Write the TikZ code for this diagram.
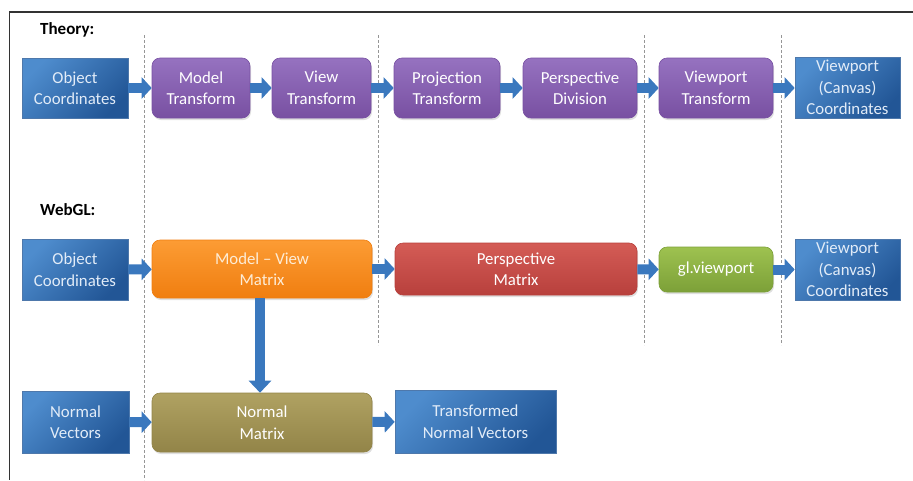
\documentclass[tikz,border=0pt]{standalone}
\usepackage{fontspec}
\setmainfont{Carlito}
\usetikzlibrary{arrows.meta,shadows}
\definecolor{bA}{RGB}{78,140,205}
\definecolor{bB}{RGB}{34,86,150}
\definecolor{pA}{RGB}{150,114,192}
\definecolor{pB}{RGB}{120,80,162}
\definecolor{oA}{RGB}{252,156,52}
\definecolor{oB}{RGB}{240,126,16}
\definecolor{rA}{RGB}{212,92,86}
\definecolor{rB}{RGB}{184,64,60}
\definecolor{gA}{RGB}{158,194,80}
\definecolor{gB}{RGB}{124,160,56}
\definecolor{yA}{RGB}{176,162,98}
\definecolor{yB}{RGB}{146,132,72}
\definecolor{arrC}{RGB}{58,120,190}
\definecolor{txtB}{RGB}{226,236,248}
\definecolor{dashC}{RGB}{150,150,150}
\begin{document}
\begin{tikzpicture}[x=1pt,y=-1pt,
  base/.style={align=center,inner sep=0pt,font=\fontsize{16.8}{21.5}\selectfont},
  bluebox/.style={base,top color=bA,bottom color=bB,shading angle=45,text=txtB,
     draw=bB!80!white,line width=0.6pt},
  rbox/.style={base,rounded corners=8pt,text=white,line width=0.6pt,
     drop shadow={opacity=0.25,shadow xshift=1pt,shadow yshift=-2pt}},
  purplebox/.style={rbox,top color=pA,bottom color=pB,draw=pB},
  orangebox/.style={rbox,top color=oA,bottom color=oB,draw=oB,text={rgb,255:red,253;green,236;blue,214}},
  redbox/.style={rbox,top color=rA,bottom color=rB,draw=rB},
  greenbox/.style={rbox,top color=gA,bottom color=gB,draw=gB},
  olivebox/.style={rbox,top color=yA,bottom color=yB,draw=yB},
  arr/.style={draw=arrC,line width=10pt,-{Triangle[width=21pt,length=10pt]}},
  varr/.style={draw=arrC,line width=10pt,-{Triangle[width=22pt,length=12pt]}},
  sep/.style={draw=dashC,densely dashed,line width=0.6pt},
  lbl/.style={font=\bfseries\fontsize{17}{20}\selectfont,anchor=west,inner sep=0pt}
]
\useasboundingbox (0,0) rectangle (913,480);
% frame
\draw[line width=1.2pt,black!80] (913,12) -- (9.5,12) -- (9.5,480);
% separators
\draw[sep] (144,35) -- (144,480);
\draw[sep] (378,35) -- (378,345);
\draw[sep] (644,35) -- (644,345);
\draw[sep] (781,35) -- (781,345);
% labels
\node[lbl] (theory) at (40,30) {Theory:};
\node[lbl] (webgl) at (40,210) {WebGL:};
% row 1
\node[bluebox,minimum width=106pt,minimum height=60pt] (obj1) at (75,88) {Object\\Coordinates};
\node[purplebox,minimum width=98pt,minimum height=60pt] (model) at (201,88) {Model\\Transform};
\node[purplebox,minimum width=99pt,minimum height=60pt] (view) at (321.5,88) {View\\Transform};
\node[purplebox,minimum width=106pt,minimum height=60pt] (proj) at (447,88) {Projection\\Transform};
\node[purplebox,minimum width=114pt,minimum height=60pt] (pdiv) at (580,88) {Perspective\\Division};
\node[purplebox,minimum width=114pt,minimum height=60pt] (vpt) at (716,88) {Viewport\\Transform};
\node[bluebox,minimum width=105pt,minimum height=61pt] (vpc1) at (847.5,87.5) {Viewport\\(Canvas)\\Coordinates};
\draw[arr] (obj1) -- (model);
\draw[arr] (model) -- (view);
\draw[arr] (view) -- (proj);
\draw[arr] (proj) -- (pdiv);
\draw[arr] (pdiv) -- (vpt);
\draw[arr] (vpt) -- (vpc1.west |- vpt);
% row 2
\node[bluebox,minimum width=106pt,minimum height=61pt] (obj2) at (75,269.5) {Object\\Coordinates};
\node[orangebox,minimum width=220pt,minimum height=58pt] (mv) at (262,269) {Model -- View\\Matrix};
\node[redbox,minimum width=242pt,minimum height=52pt] (pm) at (516,269) {Perspective\\Matrix};
\node[greenbox,minimum width=114pt,minimum height=45pt] (glv) at (716,269.5) {gl.viewport};
\node[bluebox,minimum width=105pt,minimum height=61pt] (vpc2) at (847.5,269.5) {Viewport\\(Canvas)\\Coordinates};
\draw[arr] (obj2) -- (mv);
\draw[arr] (mv) -- (pm);
\draw[arr] (pm) -- (glv);
\draw[arr] (glv) -- (vpc2);
% row 3
\node[bluebox,minimum width=107pt,minimum height=62pt] (nv) at (75.5,422) {Normal\\Vectors};
\node[olivebox,minimum width=220pt,minimum height=59pt] (nm) at (262,422.5) {Normal\\Matrix};
\node[bluebox,minimum width=161pt,minimum height=63pt] (tnv) at (475.5,421.5) {Transformed\\Normal Vectors};
\draw[arr] (nv) -- (nm);
\draw[arr] (nm) -- (tnv);
\draw[varr] (mv.south -| 260,0) -- (nm.north -| 260,0);
\end{tikzpicture}
\end{document}
